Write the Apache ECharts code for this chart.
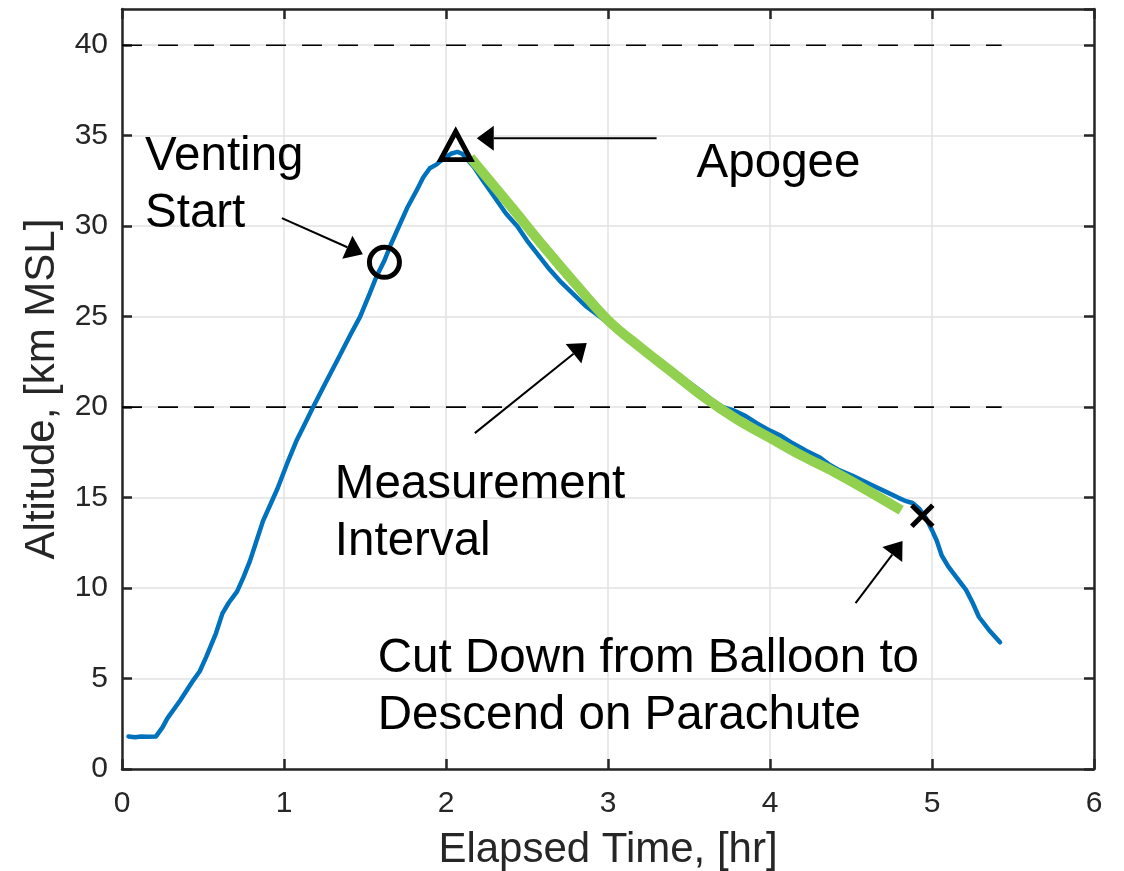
<!DOCTYPE html>
<html>
<head>
<meta charset="utf-8">
<script src="https://cdn.jsdelivr.net/npm/echarts@6/dist/echarts.min.js"></script>
<style>
  html, body { margin: 0; padding: 0; background: #ffffff; }
  #chart { width: 1124px; height: 871px; }
</style>
</head>
<body>
<div id="chart"></div>
<script>
// Balloon flight track: elapsed time [hr] and altitude [km MSL]
const timeHr = [
  0.04, 0.08, 0.12, 0.16, 0.21, 0.25, 0.28, 0.36, 0.44, 0.48,
  0.52, 0.58, 0.62, 0.66, 0.71, 0.75, 0.79, 0.83, 0.87, 0.92,
  0.96, 1.02, 1.08, 1.13, 1.18, 1.26, 1.33, 1.41, 1.47, 1.53,
  1.57, 1.62, 1.66, 1.70, 1.76, 1.82, 1.86, 1.90, 1.94, 1.98,
  2.03, 2.07, 2.10, 2.13, 2.17, 2.23, 2.30, 2.37, 2.44, 2.50,
  2.57, 2.64, 2.71, 2.78, 2.86, 2.95, 3.05, 3.20, 3.30, 3.40,
  3.48, 3.57, 3.64, 3.71, 3.78, 3.85, 3.92, 4.00, 4.07, 4.14,
  4.22, 4.31, 4.37, 4.43, 4.51, 4.58, 4.65, 4.72, 4.79, 4.84,
  4.88, 4.92, 4.96, 5.00, 5.03, 5.06, 5.10, 5.15, 5.21, 5.25,
  5.29, 5.35, 5.42
];
const altitudeKm = [
  1.80, 1.75, 1.80, 1.78, 1.80, 2.30, 2.80, 3.80, 4.90, 5.40,
  6.20, 7.50, 8.60, 9.20, 9.80, 10.6, 11.5, 12.6, 13.7, 14.7,
  15.5, 16.9, 18.2, 19.1, 20.0, 21.4, 22.6, 24.0, 25.0, 26.3,
  27.2, 28.1, 29.0, 29.8, 31.0, 32.0, 32.7, 33.2, 33.4, 33.7,
  34.0, 34.1, 34.0, 33.7, 33.3, 32.5, 31.6, 30.7, 30.0, 29.2,
  28.4, 27.6, 26.9, 26.3, 25.6, 25.0, 24.3, 23.4, 22.7, 22.0,
  21.5, 20.9, 20.4, 20.0, 19.8, 19.5, 19.1, 18.7, 18.4, 18.0,
  17.6, 17.2, 16.8, 16.5, 16.2, 15.9, 15.6, 15.3, 15.0, 14.8,
  14.7, 14.4, 13.9, 13.2, 12.6, 11.8, 11.2, 10.6, 9.9, 9.2,
  8.4, 7.7, 7.0
];

// Smooth fit over the measurement interval
const fitTimeHr = [
  2.15, 2.40, 2.60, 2.80, 3.00, 3.20, 3.40, 3.60, 3.80, 4.00,
  4.20, 4.40, 4.60, 4.81
];
const fitAltitudeKm = [
  33.8, 31.1, 28.9, 26.8, 24.8, 23.3, 21.9, 20.5, 19.3, 18.3,
  17.3, 16.4, 15.4, 14.3
];

// Reference altitudes (dashed) and the time where they stop
const refAltitudesKm = [20, 40];
const refEndHr = 5.43;

// Flight events
const ventingStart = [1.62, 28.0];
const apogee = [2.06, 34.45];
const cutDown = [4.94, 14.0];

// Axis ranges
const xRange = [0, 6];
const xStep = 1;
const yRange = [0, 42];
const yStep = 5;

// Annotation text, anchored at the first line (left edge, line centre)
const noteTexts = ['Venting\nStart', 'Apogee', 'Measurement\nInterval', 'Cut Down from Balloon to\nDescend on Parachute'];
const noteAnchors = [[0.142, 33.85], [3.547, 33.45], [1.314, 15.72], [1.579, 6.1]];

// Annotation arrows: tail and tip in axis units
const arrowTails = [[0.987, 30.44], [3.30, 34.86], [2.178, 18.56], [4.528, 9.17]];
const arrowTips  = [[1.487, 28.45], [2.19, 34.86], [2.869, 23.54], [4.818, 12.6]];

const FONT = '"Liberation Sans", Arial, Helvetica, sans-serif';
const AXIS_COLOR = '#262626';
const NOTE_SIZE = 47.5;
const NOTE_LINE_H = 57;
const HEAD_LEN = 17;
const HEAD_HALF_W = 12.5;

const chart = echarts.init(document.getElementById('chart'), null, { renderer: 'canvas' });

const pairs = (xs, ys) => xs.map((x, i) => [x, ys[i]]);

const baseAxis = {
  type: 'value',
  axisLine: { show: true, onZero: false, lineStyle: { color: AXIS_COLOR, width: 2.5 } },
  axisTick: { show: true, inside: true, length: 10, lineStyle: { color: AXIS_COLOR, width: 2.5 } },
  axisLabel: { show: true, color: AXIS_COLOR, fontSize: 30, fontFamily: FONT },
  splitLine: { show: true, lineStyle: { color: '#e2e2e2', width: 1.5 } }
};

const markerStyle = { color: 'rgba(0,0,0,0)', borderColor: '#000000', borderWidth: 5, opacity: 1 };

const option = {
  animation: false,
  backgroundColor: '#ffffff',
  grid: { left: 122, right: 30, top: 9, bottom: 102, containLabel: false, outerBoundsMode: 'none' },
  xAxis: [
    Object.assign({}, baseAxis, {
      position: 'bottom', min: xRange[0], max: xRange[1], interval: xStep,
      axisLabel: Object.assign({}, baseAxis.axisLabel, { margin: 20 }),
      name: 'Elapsed Time, [hr]', nameLocation: 'middle', nameGap: 60,
      nameTextStyle: { color: AXIS_COLOR, fontSize: 42, fontFamily: FONT }
    }),
    Object.assign({}, baseAxis, {
      position: 'top', min: xRange[0], max: xRange[1], interval: xStep,
      axisLabel: { show: false }, splitLine: { show: false }
    })
  ],
  yAxis: [
    Object.assign({}, baseAxis, {
      position: 'left', min: yRange[0], max: yRange[1], interval: yStep,
      axisLabel: Object.assign({}, baseAxis.axisLabel, { margin: 14, showMaxLabel: false }),
      name: 'Altitude, [km MSL]', nameLocation: 'middle', nameGap: 55, nameRotate: 90,
      nameTextStyle: { color: AXIS_COLOR, fontSize: 42, fontFamily: FONT }
    }),
    Object.assign({}, baseAxis, {
      position: 'right', min: yRange[0], max: yRange[1], interval: yStep,
      axisLabel: { show: false }, splitLine: { show: false }
    })
  ],
  series: [
    ...refAltitudesKm.map(a => ({
      type: 'line', silent: true, showSymbol: false, symbol: 'none',
      data: [[xRange[0], a], [refEndHr, a]],
      lineStyle: { color: '#000000', width: 1.6, type: [20, 16] },
      z: 2
    })),
    {
      name: 'Altitude', type: 'line', silent: true, showSymbol: false, symbol: 'none',
      data: pairs(timeHr, altitudeKm),
      lineStyle: { color: '#0072BD', width: 4.5, join: 'round', cap: 'round' },
      z: 3
    },
    {
      name: 'Fit', type: 'line', silent: true, showSymbol: false, symbol: 'none',
      smooth: 0.4,
      data: pairs(fitTimeHr, fitAltitudeKm),
      lineStyle: { color: '#92D050', width: 10, cap: 'butt', join: 'round' },
      z: 4
    },
    {
      type: 'scatter', silent: true, symbol: 'circle', symbolSize: 30,
      data: [ventingStart], itemStyle: markerStyle, z: 5
    },
    {
      type: 'scatter', silent: true, symbol: 'triangle', symbolSize: [30, 28],
      data: [apogee], itemStyle: markerStyle, z: 5
    },
    {
      type: 'scatter', silent: true, symbol: 'path://M0,0L10,10M10,0L0,10', symbolSize: 21,
      data: [cutDown], itemStyle: markerStyle, z: 5
    }
  ]
};

chart.setOption(option);

// Text notes and arrows, placed through the axis scales
function buildNotes() {
  const toPx = p => chart.convertToPixel({ xAxisIndex: 0, yAxisIndex: 0 }, p);
  const els = [];
  noteTexts.forEach((txt, i) => {
    const p = toPx(noteAnchors[i]);
    els.push({
      type: 'text', x: p[0], y: p[1] - NOTE_LINE_H / 2, z: 20, silent: true,
      style: {
        text: txt, fill: '#000000', fontSize: NOTE_SIZE, fontFamily: FONT,
        lineHeight: NOTE_LINE_H, align: 'left', verticalAlign: 'top'
      }
    });
  });
  arrowTails.forEach((tail, i) => {
    const s = toPx(tail), t = toPx(arrowTips[i]);
    const dx = t[0] - s[0], dy = t[1] - s[1];
    const len = Math.hypot(dx, dy);
    const ux = dx / len, uy = dy / len;
    const bx = t[0] - ux * HEAD_LEN, by = t[1] - uy * HEAD_LEN;
    els.push({
      type: 'line', z: 20, silent: true,
      shape: { x1: s[0], y1: s[1], x2: bx, y2: by },
      style: { stroke: '#000000', lineWidth: 2 }
    });
    els.push({
      type: 'polygon', z: 20, silent: true,
      shape: { points: [[t[0], t[1]], [bx - uy * HEAD_HALF_W, by + ux * HEAD_HALF_W], [bx + uy * HEAD_HALF_W, by - ux * HEAD_HALF_W]] },
      style: { fill: '#000000' }
    });
  });
  chart.setOption({ graphic: els });
}
buildNotes();
</script>
</body>
</html>
